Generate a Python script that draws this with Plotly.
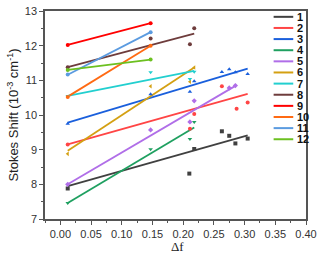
import plotly.graph_objects as go

labels = ["1", "2", "3", "4", "5", "6", "7", "8", "9", "10", "11", "12"]
colors = ["#404040", "#FF4545", "#1A5FDC", "#1FA060", "#B06EE8", "#D4A012",
          "#22CFCF", "#6E3C3C", "#FF0000", "#FF6A13", "#5B9BE0", "#6CC020"]
symbols = ["square", "circle", "triangle-up", "triangle-down", "diamond", "triangle-left",
           "triangle-down", "circle", "circle", "circle", "circle", "circle"]

# measured points (delta f, Stokes shift in 10^-3 cm^-1)
x1 = [0.012, 0.210, 0.218, 0.263, 0.275, 0.285, 0.305]
y1 = [7.88, 8.31, 9.02, 9.53, 9.40, 9.18, 9.32]
x2 = [0.012, 0.211, 0.218, 0.263, 0.287, 0.305]
y2 = [9.15, 9.60, 10.03, 10.83, 10.18, 10.36]
x3 = [0.012, 0.147, 0.211, 0.218, 0.263, 0.275, 0.285, 0.305]
y3 = [9.75, 10.60, 10.67, 10.97, 11.24, 11.32, 11.23, 11.18]
x4 = [0.012, 0.147, 0.211, 0.218]
y4 = [7.46, 9.01, 9.31, 9.80]
x5 = [0.012, 0.147, 0.211, 0.218, 0.275, 0.285]
y5 = [8.00, 9.57, 9.80, 10.41, 10.78, 10.85]
x6 = [0.012, 0.147, 0.211, 0.218]
y6 = [8.88, 10.83, 10.96, 11.37]
x7 = [0.012, 0.147, 0.211, 0.218]
y7 = [10.55, 11.23, 11.04, 11.25]
x8 = [0.012, 0.147, 0.211, 0.218]
y8 = [11.38, 12.21, 12.04, 12.50]
x9 = [0.012, 0.147]
y9 = [12.02, 12.65]
x10 = [0.012, 0.147]
y10 = [10.52, 12.00]
x11 = [0.012, 0.147]
y11 = [11.17, 12.39]
x12 = [0.012, 0.147]
y12 = [11.30, 11.60]

# linear fit lines (start / end)
fit_x0 = [0.012] * 12
fit_x1 = [0.305, 0.305, 0.305, 0.218, 0.285, 0.218, 0.218, 0.218, 0.147, 0.147, 0.147, 0.147]
fit_y0 = [7.95, 9.15, 9.78, 7.46, 8.00, 8.97, 10.55, 11.38, 12.02, 10.53, 11.16, 11.30]
fit_y1 = [9.41, 10.61, 11.34, 9.64, 10.84, 11.37, 11.27, 12.35, 12.65, 12.00, 12.39, 11.60]

xs = [x1, x2, x3, x4, x5, x6, x7, x8, x9, x10, x11, x12]
ys = [y1, y2, y3, y4, y5, y6, y7, y8, y9, y10, y11, y12]

fig = go.Figure()
for i in range(12):
    fig.add_trace(go.Scatter(x=[fit_x0[i], fit_x1[i]], y=[fit_y0[i], fit_y1[i]],
                             mode="lines", line=dict(color=colors[i], width=1.8),
                             showlegend=False, hoverinfo="skip"))
for i in range(12):
    fig.add_trace(go.Scatter(x=xs[i], y=ys[i], mode="markers",
                             marker=dict(color=colors[i], size=4, symbol=symbols[i]),
                             showlegend=False))

L, R, T, B = 45, 311, 5, 219
W, H = 322, 253
pw, ph = R - L, B - T

def px(xp):
    return (xp - L) / pw

def py(yp):
    return (B - yp) / ph

shapes = []
annotations = []
for i in range(12):
    yp = 11 + i * 11.45
    shapes.append(dict(type="line", xref="paper", yref="paper",
                       x0=px(278), x1=px(298), y0=py(yp), y1=py(yp),
                       line=dict(color=colors[i], width=2)))
    annotations.append(dict(xref="paper", yref="paper", x=px(300), y=py(yp),
                            xanchor="left", yanchor="middle", showarrow=False,
                            text="<b>" + labels[i] + "</b>",
                            font=dict(family="Liberation Sans", size=11, color="#111")))

annotations.append(dict(xref="paper", yref="paper", x=px(12), y=py(112),
                        xanchor="center", yanchor="middle", showarrow=False, textangle=-90,
                        text="Stokes Shift (10<sup>-3</sup> cm<sup>-1</sup>)",
                        font=dict(family="Liberation Sans", size=13, color="#222")))
annotations.append(dict(xref="paper", yref="paper", x=px(180), y=py(247.5),
                        xanchor="center", yanchor="middle", showarrow=False,
                        text="Δf",
                        font=dict(family="Liberation Serif", size=13, color="#222")))

axis_common = dict(showline=True, mirror=True, linecolor="#555", linewidth=1.5,
                   showgrid=False, zeroline=False, ticks="outside", ticklen=4,
                   tickcolor="#555", tickwidth=1.2,
                   tickfont=dict(family="Liberation Sans", size=11, color="#333"))

fig.update_layout(
    width=W, height=H,
    margin=dict(l=L, r=W - R, t=T, b=H - B),
    plot_bgcolor="white", paper_bgcolor="white",
    xaxis=dict(range=[-0.025, 0.40], tickvals=[0, 0.05, 0.10, 0.15, 0.20, 0.25, 0.30, 0.35, 0.40],
               tickformat=".2f",
               minor=dict(ticks="outside", ticklen=2, dtick=0.025, tick0=0, tickcolor="#555"),
               **axis_common),
    yaxis=dict(range=[7, 13], dtick=1,
               minor=dict(ticks="outside", ticklen=2, dtick=0.5, tick0=7, tickcolor="#555"),
               **axis_common),
    shapes=shapes, annotations=annotations, showlegend=False,
)

fig.write_html("out.html", config={"displayModeBar": False},
               post_script="document.body.style.margin='0px';")
